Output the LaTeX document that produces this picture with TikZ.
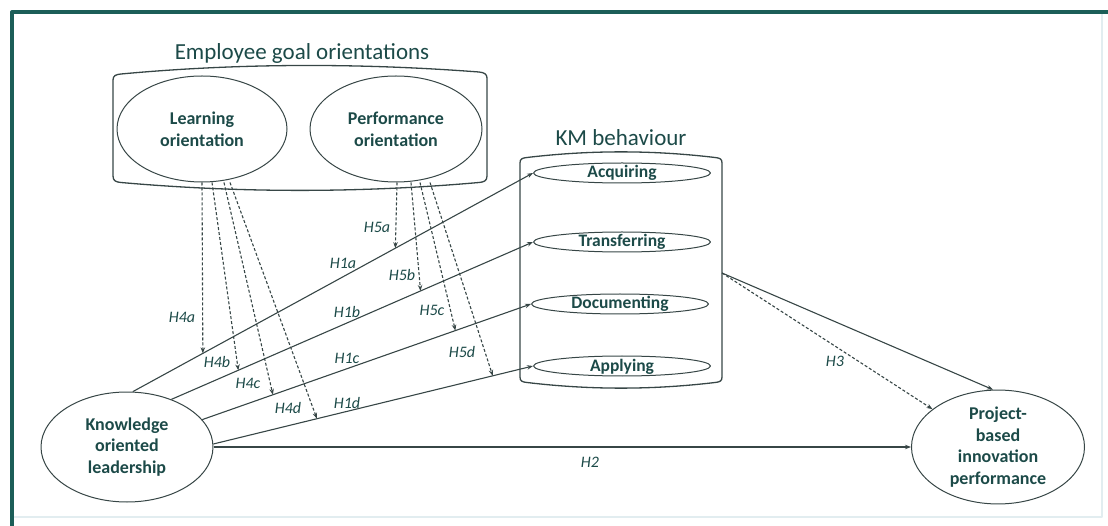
\documentclass[tikz,border=0pt]{standalone}
\usepackage{fontspec}
\setmainfont{Carlito}
\usetikzlibrary{arrows.meta,shapes.geometric}
\definecolor{frameteal}{RGB}{28,94,88}
\definecolor{labelteal}{RGB}{28,74,72}
\definecolor{linegrey}{RGB}{55,70,70}
\definecolor{edgefaint}{RGB}{226,237,240}
\tikzset{
  construct/.style={ellipse, draw=linegrey, line width=1pt, align=center, inner sep=0pt,
    text=labelteal, font=\fontsize{18}{21.7}\selectfont\bfseries},
  facet/.style={ellipse, draw=linegrey, line width=1pt, inner xsep=0pt, inner ysep=-3pt,
    minimum width=177pt, minimum height=20pt, text height=13pt, text depth=3pt,
    text=labelteal, font=\fontsize{17.5}{20}\selectfont\bfseries},
  heading/.style={text=labelteal, font=\fontsize{23}{27}\selectfont},
  hyp/.style={text=labelteal, font=\fontsize{16}{19}\selectfont\itshape, inner sep=1pt},
  direct/.style={draw=linegrey, line width=1.1pt, -{Stealth[length=6pt,width=4.5pt]}},
  moder/.style={direct, dash pattern=on 3pt off 2pt}
}
\begin{document}
\begin{tikzpicture}
% one unit per pixel, y running downwards
\def\grpwidth{1.3pt}
\begin{scope}[x=1pt, y=-1pt, line join=round]
  \useasboundingbox (0,0) rectangle (1108,526);
  % Page frame
  \draw[edgefaint, line width=2pt] (14,517) -- (1102,517) -- (1102,14);
  \draw[frameteal, line width=4pt] (12,526) -- (12,12) -- (1108,12);

  % Group outlines, flat sides with bulging top and bottom
  \draw[linegrey, line width=\grpwidth]
    (113,80) -- (113,176)
    .. controls (113,181) and (116,182) .. (121,182.5)
    .. controls (240,193) and (360,193) .. (479,182.5)
    .. controls (484,182) and (487,181) .. (487,176)
    -- (487,78)
    .. controls (487,74) and (484,72.5) .. (479,72)
    .. controls (360,63) and (240,63) .. (121,74)
    .. controls (116,74.5) and (113,75.5) .. cycle;
  \draw[linegrey, line width=\grpwidth]
    (520,163) -- (520,377)
    .. controls (520,381) and (522,382) .. (527,382.5)
    .. controls (590,390) and (652,390) .. (715,382.5)
    .. controls (720,382) and (722,381) .. (722,377)
    -- (722,163)
    .. controls (722,159) and (720,158) .. (715,157.5)
    .. controls (652,150) and (590,150) .. (527,157.5)
    .. controls (522,158) and (520,159) .. cycle;
  \coordinate (km-out) at (722,273);

  % Titles
  \node[heading] (ego-title) at (302,53) {Employee goal orientations};
  \node[heading] (km-title) at (621,138) {KM behaviour};

  % Constructs
  \node[construct, minimum width=170pt, minimum height=106pt] (lo) at (202,129) {Learning\\orientation};
  \node[construct, minimum width=172pt, minimum height=106pt] (po) at (396,129) {Performance\\orientation};
  \node[construct, minimum width=172pt, minimum height=110pt] (kol) at (127,447) {Knowledge\\oriented\\leadership};
  \node[construct, minimum width=173pt, minimum height=106pt] (pbip) at (998,447) {Project-\\based\\innovation\\performance};

  % KM behaviour facets
  \node[facet] (acq) at (622,173) {Acquiring};
  \node[facet] (tra) at (622,242) {Transferring};
  \node[facet] (doc) at (620,304) {Documenting};
  \node[facet] (app) at (622,366) {Applying};

  % Direct effects (H1a-H1d), with the points the moderators hit
  \draw[direct] (kol.84) -- coordinate[pos=0.175] (h4a-tip) coordinate[pos=0.656] (h5a-tip) (acq.west);
  \draw[direct] (kol.47) -- coordinate[pos=0.185] (h4b-tip) coordinate[pos=0.689] (h5b-tip) (tra.west);
  \draw[direct] (kol.20) -- coordinate[pos=0.215] (h4c-tip) coordinate[pos=0.770] (h5c-tip) (doc.west);
  \draw[direct] (kol.2)  -- coordinate[pos=0.324] (h4d-tip) coordinate[pos=0.874] (h5d-tip) (app.west);
  \draw[direct] (kol.east) -- (pbip.west);
  \draw[direct] (km-out) -- (pbip.95);
  \draw[moder] (km-out) -- (pbip.150);

  % Moderation by goal orientations
  \draw[moder] (lo.south) -- (h4a-tip);
  \draw[moder] ([xshift=10pt]lo.south) -- (h4b-tip);
  \draw[moder] ([xshift=22pt]lo.south) -- (h4c-tip);
  \draw[moder] ([xshift=28pt]lo.south) -- (h4d-tip);
  \draw[moder] ([xshift=1pt]po.south) -- (h5a-tip);
  \draw[moder] ([xshift=15pt]po.south) -- (h5b-tip);
  \draw[moder] ([xshift=24pt]po.south) -- (h5c-tip);
  \draw[moder] ([xshift=34pt]po.south) -- (h5d-tip);

  % Hypothesis labels
  \node[hyp] (h1a) at (343,263) {H1a};
  \node[hyp] (h1b) at (347,312) {H1b};
  \node[hyp] (h1c) at (347,358) {H1c};
  \node[hyp] (h1d) at (347,403) {H1d};
  \node[hyp] (h2) at (590,462) {H2};
  \node[hyp] (h3) at (835,361) {H3};
  \node[hyp] (h4a) at (182,317) {H4a};
  \node[hyp] (h4b) at (217,362) {H4b};
  \node[hyp] (h4c) at (248,383) {H4c};
  \node[hyp] (h4d) at (288,408) {H4d};
  \node[hyp] (h5a) at (377,227) {H5a};
  \node[hyp] (h5b) at (402,275) {H5b};
  \node[hyp] (h5c) at (432,310) {H5c};
  \node[hyp] (h5d) at (462,352) {H5d};
\end{scope}
\end{tikzpicture}
\end{document}
